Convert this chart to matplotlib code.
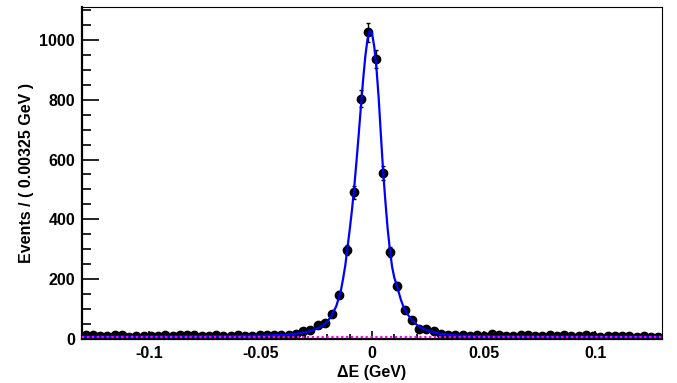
import numpy as np
import matplotlib
matplotlib.use("Agg")
import matplotlib.pyplot as plt
from matplotlib.ticker import MultipleLocator

plt.rcParams["font.family"] = ["Liberation Sans", "DejaVu Sans"]
plt.rcParams["font.weight"] = "bold"

# histogram: 80 bins of 0.00325 GeV from -0.13 to 0.13
x_lo, x_hi = -0.13, 0.13
bin_width = 0.00325
counts = [
    12, 14, 10, 9, 15, 12, 8, 9, 10, 11,
    9, 14, 10, 12, 13, 14, 11, 10, 15, 11,
    10, 12, 9, 11, 12, 13, 14, 15, 15, 18,
    27, 29, 48, 53, 84, 148, 298, 490, 803, 1025,
    935, 556, 291, 178, 97, 62, 32, 32, 27, 18,
    15, 13, 12, 11, 14, 10, 16, 12, 10, 9,
    13, 14, 10, 11, 12, 9, 13, 11, 10, 12,
    11, 8, 10, 9, 11, 10, 6, 9, 8, 7,
]

# total fit curve
curve_x = [
    -0.130, -0.080, -0.060, -0.050, -0.045, -0.040, -0.035, -0.030, -0.027,
    -0.024, -0.022, -0.020, -0.018, -0.016, -0.014, -0.013, -0.012, -0.011,
    -0.010, -0.009, -0.008, -0.007, -0.006, -0.005, -0.004, -0.003, -0.002,
    -0.001, 0.000, 0.001, 0.002, 0.003, 0.004, 0.005, 0.006, 0.007, 0.008,
    0.009, 0.010, 0.011, 0.012, 0.013, 0.014, 0.016, 0.018, 0.020, 0.022,
    0.025, 0.030, 0.035, 0.040, 0.050, 0.070, 0.130,
]
curve_y = [
    8, 9, 10, 11, 12, 14, 17, 22, 28,
    37, 46, 58, 80, 110, 160, 200, 245, 305,
    365, 430, 505, 590, 680, 775, 865, 945, 1003,
    1030, 1022, 978, 905, 805, 680, 560, 460, 370, 300,
    242, 205, 182, 156, 130, 110, 82, 62, 48, 38,
    28, 18, 13, 11, 9.5, 8.5, 8,
]

# flat background component
bkg_level = 8

centers = x_lo + bin_width * (np.arange(len(counts)) + 0.5)
counts = np.array(counts)
errs = np.sqrt(counts)

fig = plt.figure(figsize=(6.77, 3.83), dpi=100)
ax = fig.add_axes([82 / 677, 1 - 339 / 383, 580 / 677, 332 / 383])

ax.errorbar(centers, counts, yerr=errs, fmt="o", color="black", ms=6,
            elinewidth=1, capsize=1.5, capthick=1, zorder=2)
ax.plot(curve_x, curve_y, color="#0000ff", lw=1.6, zorder=3)
ax.plot([x_lo, x_hi], [bkg_level, bkg_level], color="#ff00ff", lw=1.6,
        linestyle=(0, (1, 1.2)), zorder=4)

ax.set_xlim(x_lo, x_hi)
ax.set_ylim(0, 1110)

ax.xaxis.set_major_locator(MultipleLocator(0.05))
ax.xaxis.set_minor_locator(MultipleLocator(0.01))
ax.yaxis.set_major_locator(MultipleLocator(200))
ax.yaxis.set_minor_locator(MultipleLocator(50))
ax.set_xticks([-0.1, -0.05, 0, 0.05, 0.1])
ax.set_xticklabels(["-0.1", "-0.05", "0", "0.05", "0.1"])

ax.tick_params(axis="x", which="major", direction="in", length=6, width=1.2,
               labelsize=11.5, pad=5, top=False)
ax.tick_params(axis="x", which="minor", direction="in", length=3.5, width=1.2,
               top=False)
ax.tick_params(axis="y", which="major", direction="in", length=12.5, width=1.2,
               labelsize=11.5, pad=5, right=False)
ax.tick_params(axis="y", which="minor", direction="in", length=6.5, width=1.2,
               right=False)
for lab in ax.get_xticklabels() + ax.get_yticklabels():
    lab.set_fontweight("bold")

for side in ["left", "bottom"]:
    ax.spines[side].set_linewidth(1.6)
for side in ["top", "right"]:
    ax.spines[side].set_linewidth(0.8)

ax.set_xlabel("\u0394E (GeV)", fontsize=11.5, fontweight="bold", labelpad=3)
ax.set_ylabel("Events / ( 0.00325 GeV )", fontsize=11.5, fontweight="bold",
              labelpad=4)

fig.savefig("out.png", dpi=100)
